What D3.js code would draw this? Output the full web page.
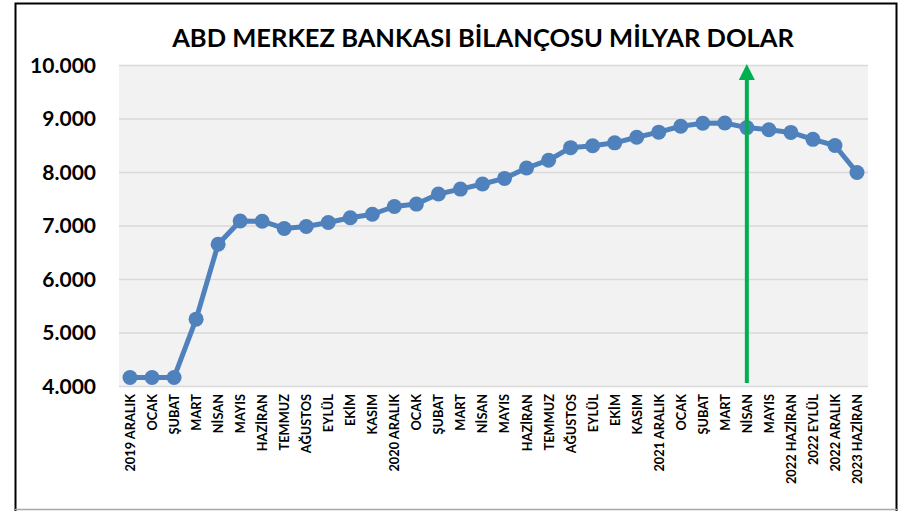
<!DOCTYPE html>
<html>
<head>
<meta charset="utf-8">
<script src="https://cdn.jsdelivr.net/npm/d3@7"></script>
<style>
  body { margin: 0; background: #fff; }
  text { font-family: Lato, "Open Sans", sans-serif; font-weight: bold; fill: #000; }
</style>
</head>
<body>
<div class="chart"></div>
<script>
// chart data
var title = "ABD MERKEZ BANKASI BİLANÇOSU MİLYAR DOLAR";

var months = [
  "2019 ARALIK", "OCAK", "ŞUBAT", "MART", "NİSAN", "MAYIS", "HAZİRAN", "TEMMUZ", "AĞUSTOS", "EYLÜL", "EKİM", "KASIM",
  "2020 ARALIK", "OCAK", "ŞUBAT", "MART", "NİSAN", "MAYIS", "HAZİRAN", "TEMMUZ", "AĞUSTOS", "EYLÜL", "EKİM", "KASIM",
  "2021 ARALIK", "OCAK", "ŞUBAT", "MART", "NİSAN", "MAYIS",
  "2022 HAZİRAN", "2022 EYLÜL", "2022 ARALIK", "2023 HAZİRAN"
];

var balance = [
  4160, 4160, 4160, 5250, 6650, 7085, 7080, 6945, 6980, 7055, 7145, 7210,
  7355, 7400, 7590, 7680, 7775, 7880, 8075, 8220, 8455, 8490, 8545, 8650,
  8745, 8855, 8910, 8915, 8830, 8790,
  8740, 8610, 8495, 7990
];

var yTicks = [4000, 5000, 6000, 7000, 8000, 9000, 10000];

// index of the month the arrow points at (2021 NİSAN)
var arrowIndex = 28;

//Setting up the chart
var svgWidth = 899;
var svgHeight = 511;
var plot = { left: 119, right: 868, top: 65, bottom: 386 };

var svg = d3.select(".chart")
  .append("svg")
  .attr("width", svgWidth)
  .attr("height", svgHeight);

// outer frame
svg.append("rect")
  .attr("x", 15.5).attr("y", 3.5)
  .attr("width", 881).attr("height", 520)
  .attr("fill", "#fff")
  .attr("stroke", "#000")
  .attr("stroke-width", 2);
svg.append("line")
  .attr("x1", 15).attr("x2", 897).attr("y1", 509.5).attr("y2", 509.5)
  .attr("stroke", "#a6a6a6").attr("stroke-width", 1.5);

// scales
var x = d3.scalePoint()
  .domain(d3.range(months.length))
  .range([plot.left, plot.right])
  .padding(0.5);

var y = d3.scaleLinear()
  .domain([4000, 10000])
  .range([plot.bottom, plot.top]);

// plot background
svg.append("rect")
  .attr("x", plot.left).attr("y", plot.top)
  .attr("width", plot.right - plot.left)
  .attr("height", plot.bottom - plot.top)
  .attr("fill", "#f2f2f2");

// gridlines + y labels
var yAxis = d3.axisLeft(y)
  .tickValues(yTicks)
  .tickSize(-(plot.right - plot.left))
  .tickPadding(23)
  .tickFormat(function(d) { return d3.format(",")(d).replace(/,/g, "."); });

var gy = svg.append("g")
  .attr("transform", "translate(" + plot.left + ",0)")
  .call(yAxis);
gy.select(".domain").remove();
gy.selectAll(".tick line").attr("stroke", "#d9d9d9").attr("stroke-width", 1.5);
gy.selectAll(".tick text").style("font-size", "21px").attr("dy", "0.35em");

// x labels
var xAxis = d3.axisBottom(x)
  .tickSize(0)
  .tickFormat(function(i) { return months[i]; });

var gx = svg.append("g")
  .attr("transform", "translate(0," + plot.bottom + ")")
  .call(xAxis);
gx.select(".domain").remove();
gx.selectAll(".tick text")
  .style("font-size", "12.8px")
  .attr("text-anchor", "end")
  .attr("transform", "rotate(-90)")
  .attr("x", -8)
  .attr("y", 0)
  .attr("dy", "0.35em");

// title
svg.append("text")
  .attr("x", 483)
  .attr("y", 47)
  .attr("text-anchor", "middle")
  .style("font-size", "25.5px")
  .text(title);

// line + markers
var line = d3.line()
  .x(function(d, i) { return x(i); })
  .y(function(d) { return y(d); });

svg.append("path")
  .datum(balance)
  .attr("d", line)
  .attr("fill", "none")
  .attr("stroke", "#4f81bd")
  .attr("stroke-width", 5)
  .attr("stroke-linejoin", "round");

svg.selectAll("circle.dot")
  .data(balance)
  .enter()
  .append("circle")
  .attr("class", "dot")
  .attr("cx", function(d, i) { return x(i); })
  .attr("cy", function(d) { return y(d); })
  .attr("r", 7.5)
  .attr("fill", "#4f81bd");

// green arrow
var ax = x(arrowIndex);
var topY = y(10000);
svg.append("line")
  .attr("x1", ax).attr("x2", ax)
  .attr("y1", plot.bottom - 3)
  .attr("y2", topY + 12)
  .attr("stroke", "#00b050")
  .attr("stroke-width", 4);
svg.append("path")
  .attr("d", "M" + ax + "," + (topY - 1) + " L" + (ax - 8) + "," + (topY + 15) + " L" + (ax + 8) + "," + (topY + 15) + " Z")
  .attr("fill", "#00b050");
</script>
</body>
</html>
